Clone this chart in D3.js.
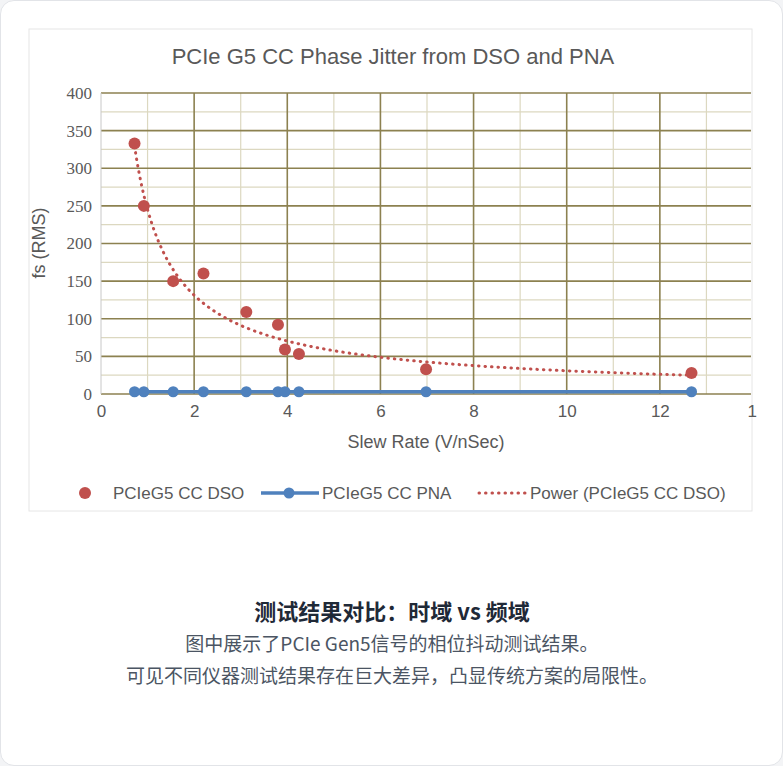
<!DOCTYPE html>
<html><head><meta charset="utf-8">
<script src="https://cdn.jsdelivr.net/npm/d3@7"></script>
<style>
body{margin:0;background:#f3f4f6;font-family:"Liberation Sans",Arial,sans-serif}
#card{position:absolute;left:0;top:0;width:781px;height:764px;background:#fff;border:1px solid #e2e4e8;border-radius:14px}
</style></head><body>
<div id="card"><svg id="c" width="781" height="764"></svg></div>
<script>
const dsoX = [0.72, 0.92, 1.55, 2.2, 3.12, 3.8, 3.95, 4.25, 6.98, 12.68];
const dsoY = [333, 250, 150, 160, 109, 92, 59, 53, 33, 28];
const pnaY = [3, 3, 3, 3, 3, 3, 3, 3, 3, 3];
const xTicks = [0, 2, 4, 6, 8, 10, 12, 14];
const yTicks = [0, 50, 100, 150, 200, 250, 300, 350, 400];
const fitA = 245, fitB = -0.9;

const svg = d3.select("#c");
svg.append("rect").attr("x", 28).attr("y", 28).attr("width", 723).attr("height", 482)
  .attr("fill", "#fff").attr("stroke", "#e6e6e6");
const x = d3.scaleLinear().domain([0, 14]).range([100, 752]);
const y = d3.scaleLinear().domain([0, 400]).range([393, 92]);
const g = svg.append("g");
svg.append("clipPath").attr("id", "cl").append("rect")
  .attr("x", 28).attr("y", 28).attr("width", 722).attr("height", 482);
g.attr("clip-path", "url(#cl)");

d3.range(1, 14, 2).forEach(v => g.append("line").attr("x1", x(v)).attr("x2", x(v))
  .attr("y1", y(0)).attr("y2", y(400)).attr("stroke", "#dcd8c0").attr("stroke-width", 1.2));
d3.range(25, 400, 50).forEach(v => g.append("line").attr("x1", x(0)).attr("x2", x(14))
  .attr("y1", y(v)).attr("y2", y(v)).attr("stroke", "#dcd8c0").attr("stroke-width", 1.2));
xTicks.slice(1).forEach(v => g.append("line").attr("x1", x(v)).attr("x2", x(v))
  .attr("y1", y(0)).attr("y2", y(400)).attr("stroke", "#8c8150").attr("stroke-width", 1.6));
yTicks.forEach(v => g.append("line").attr("x1", x(0)).attr("x2", x(14))
  .attr("y1", y(v)).attr("y2", y(v)).attr("stroke", "#8c8150").attr("stroke-width", 1.6));
g.append("line").attr("x1", x(0)).attr("x2", x(0)).attr("y1", y(0)).attr("y2", y(400))
  .attr("stroke", "#c8c8c8");

const yAx = svg.append("g").attr("transform", `translate(${x(0)},0)`)
  .call(d3.axisLeft(y).tickValues(yTicks).tickSize(0).tickPadding(9));
yAx.select(".domain").remove();
yAx.selectAll("text").attr("font-family", "Liberation Serif, serif").attr("font-size", 17).attr("fill", "#595959");
const xAx = svg.append("g").attr("transform", `translate(0,${y(0)})`)
  .call(d3.axisBottom(x).tickValues(xTicks).tickSize(0).tickPadding(11).tickFormat(d => d === 14 ? "1" : d));
xAx.select(".domain").remove();
xAx.selectAll("text").attr("font-size", 17).attr("fill", "#595959")
  .filter(d => d === 14).attr("text-anchor", "start").attr("dx", -6);

svg.append("text").attr("x", 392).attr("y", 63).attr("text-anchor", "middle")
  .attr("font-size", 22).attr("fill", "#595959").text("PCIe G5 CC Phase Jitter from DSO and PNA");
svg.append("text").attr("x", 425).attr("y", 447).attr("text-anchor", "middle")
  .attr("font-size", 18).attr("fill", "#595959").text("Slew Rate (V/nSec)");
svg.append("text").attr("transform", "translate(44,242) rotate(-90)").attr("text-anchor", "middle")
  .attr("font-size", 18).attr("fill", "#595959").text("fs (RMS)");

const fit = d3.range(0.72, 12.7, 0.05).map(v => [v, fitA * Math.pow(v, fitB)]);
const line = d3.line().x(d => x(d[0])).y(d => y(d[1]));
g.append("path").attr("d", line(fit)).attr("fill", "none").attr("stroke", "#c0504d")
  .attr("stroke-width", 3).attr("stroke-dasharray", "0.5,6").attr("stroke-linecap", "round");
g.append("path").attr("d", line(dsoX.map((v, i) => [v, pnaY[i]]))).attr("fill", "none")
  .attr("stroke", "#4f81bd").attr("stroke-width", 3.5);
dsoX.forEach((v, i) => g.append("circle").attr("cx", x(v)).attr("cy", y(pnaY[i])).attr("r", 5.5).attr("fill", "#4f81bd"));
dsoX.forEach((v, i) => g.append("circle").attr("cx", x(v)).attr("cy", y(dsoY[i])).attr("r", 6).attr("fill", "#c0504d"));

const lg = svg.append("g").attr("font-size", 17).attr("fill", "#595959");
lg.append("circle").attr("cx", 84).attr("cy", 492).attr("r", 6).attr("fill", "#c0504d");
lg.append("text").attr("x", 112).attr("y", 498).text("PCIeG5 CC DSO");
lg.append("line").attr("x1", 260).attr("x2", 318).attr("y1", 492).attr("y2", 492).attr("stroke", "#4f81bd").attr("stroke-width", 3.5);
lg.append("circle").attr("cx", 288).attr("cy", 492).attr("r", 5.5).attr("fill", "#4f81bd");
lg.append("text").attr("x", 321).attr("y", 498).text("PCIeG5 CC PNA");
lg.append("line").attr("x1", 478).attr("x2", 526).attr("y1", 492).attr("y2", 492).attr("stroke", "#c0504d")
  .attr("stroke-width", 3).attr("stroke-dasharray", "0.5,6").attr("stroke-linecap", "round");
lg.append("text").attr("x", 529).attr("y", 498).text("Power (PCIeG5 CC DSO)");

const cap = svg.append("g").attr("font-family", "Noto Sans CJK SC, sans-serif").attr("text-anchor", "middle");
cap.append("text").attr("x", 391).attr("y", 619).attr("font-size", 22).attr("font-weight", "bold")
  .attr("fill", "#1f2937").text("测试结果对比：时域 vs 频域");
cap.append("text").attr("x", 391).attr("y", 650).attr("font-size", 19).attr("fill", "#4b5563")
  .text("图中展示了PCIe Gen5信号的相位抖动测试结果。");
cap.append("text").attr("x", 391).attr("y", 682).attr("font-size", 19).attr("fill", "#4b5563")
  .text("可见不同仪器测试结果存在巨大差异，凸显传统方案的局限性。");
</script></body></html>
